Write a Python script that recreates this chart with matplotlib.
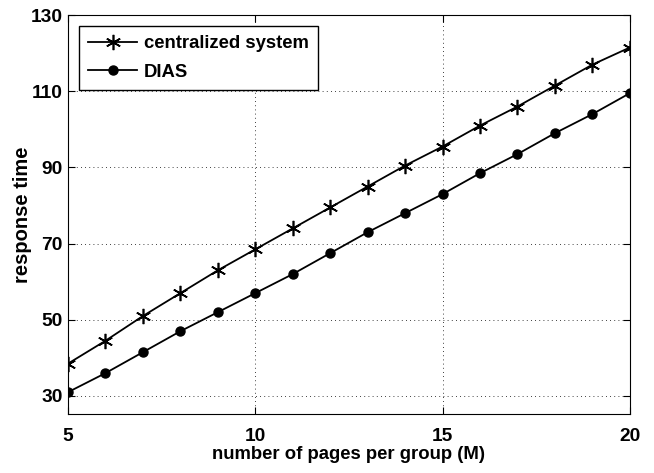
import matplotlib
matplotlib.use("Agg")
import matplotlib.pyplot as plt

plt.rcParams['font.family'] = ['Liberation Sans', 'DejaVu Sans']
plt.rcParams['font.weight'] = 'bold'

# Pages per group (M)
pages = [5, 6, 7, 8, 9, 10, 11, 12, 13, 14, 15, 16, 17, 18, 19, 20]
# Response time of each scheme
centralized = [38.5, 44.5, 51, 57, 63, 68.5, 74, 79.5, 85, 90.5, 95.5, 101, 106, 111.5, 117, 121.5]
dias = [31, 36, 41.5, 47, 52, 57, 62, 67.5, 73, 78, 83, 88.5, 93.5, 99, 104, 109.5]

fig = plt.figure(figsize=(6.54, 4.73), dpi=100)
ax = fig.add_axes([0.104, 0.125, 0.859, 0.843])

ax.plot(pages, centralized, color="k", lw=1.3, marker=(6, 2, 0), ms=11, mew=1.2,
        label="centralized system")
ax.plot(pages, dias, color="k", lw=1.3, marker="o", ms=6.5, label="DIAS")

ax.set_xlim(5, 20)
ax.set_ylim(25.3, 130)
ax.set_xticks([5, 10, 15, 20])
ax.set_yticks([30, 50, 70, 90, 110, 130])
ax.tick_params(direction="in", labelsize=13.8, length=5, width=0.8, top=True, right=True)
ax.tick_params(axis="x", pad=10)
ax.tick_params(axis="y", pad=4)
for lab in ax.get_xticklabels() + ax.get_yticklabels():
    lab.set_fontweight("bold")
ax.grid(True, color="k", linestyle=(0, (1, 4)), linewidth=0.6)

ax.set_xlabel("number of pages per group (M)", fontsize=13.3, fontweight="bold", labelpad=1)
ax.set_ylabel("response time", fontsize=14.5, fontweight="bold", labelpad=-1)

leg = ax.legend(loc="upper left", fontsize=13.3, fancybox=False, framealpha=1,
                edgecolor="k", handlelength=2.65, handletextpad=0.35,
                borderaxespad=0.6, labelspacing=0.6, borderpad=0.5)
leg.get_frame().set_linewidth(1.0)
for t in leg.get_texts():
    t.set_fontweight("bold")

fig.savefig("out.png", dpi=100)
